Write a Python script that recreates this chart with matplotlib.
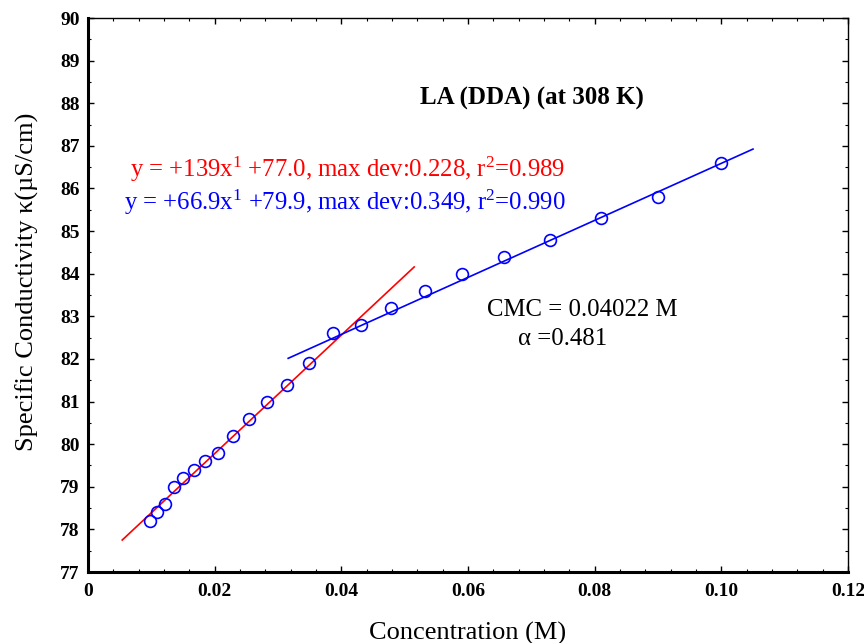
import matplotlib
matplotlib.use("Agg")
import matplotlib.pyplot as plt
from matplotlib.ticker import MultipleLocator, FixedLocator, FixedFormatter
import numpy as np

plt.rcParams['font.family'] = ['Liberation Serif', 'DejaVu Serif']
plt.rcParams['mathtext.fontset'] = 'custom'
plt.rcParams['mathtext.rm'] = 'Liberation Serif'
plt.rcParams['mathtext.it'] = 'Liberation Serif:italic'
plt.rcParams['mathtext.bf'] = 'Liberation Serif:bold'

# Data
conc = [0.00985, 0.01094, 0.01216, 0.01351, 0.01501, 0.01668, 0.01853, 0.02059,
        0.02288, 0.02542, 0.02824, 0.03138, 0.03487, 0.03874, 0.04305, 0.04783,
        0.05314, 0.05905, 0.06561, 0.07290, 0.08100, 0.09000, 0.10000]
kappa = [78.2, 78.4, 78.6, 79.0, 79.2, 79.4, 79.6, 79.8, 80.2, 80.6, 81.0, 81.4,
         81.9, 82.6, 82.8, 83.2, 83.6, 84.0, 84.4, 84.8, 85.3, 85.8, 86.6]

# Fit lines (from equations shown)
red_slope, red_int = 139.0, 77.0
red_range = [0.0054, 0.0515]
blue_slope, blue_int = 66.9, 79.9
blue_range = [0.0316, 0.105]

xticks = [0, 0.02, 0.04, 0.06, 0.08, 0.10, 0.12]
xtick_labels = ["0", "0.02", "0.04", "0.06", "0.08", "0.10", "0.12"]
yticks = list(range(77, 91))

fig = plt.figure(figsize=(8.64, 6.43), dpi=100)
ax = fig.add_axes([0.1019, 0.1104, 0.8796, 0.8616])

rx = np.array(red_range)
ax.plot(rx, red_slope * rx + red_int, color='red', lw=1.2)
bx = np.array(blue_range)
ax.plot(bx, blue_slope * bx + blue_int, color='blue', lw=1.2)
ax.plot(conc, kappa, linestyle='none', marker='o', markersize=8.5,
        markerfacecolor='none', markeredgecolor='blue', markeredgewidth=1.2)

ax.set_xlim(0, 0.12)
ax.set_ylim(77, 90)
ax.xaxis.set_major_locator(FixedLocator(xticks))
ax.xaxis.set_major_formatter(FixedFormatter(xtick_labels))
ax.xaxis.set_minor_locator(MultipleLocator(0.004))
ax.yaxis.set_major_locator(FixedLocator(yticks))
ax.yaxis.set_minor_locator(MultipleLocator(0.5))

ax.tick_params(which='both', direction='in', top=True, right=True)
ax.tick_params(which='major', length=4, width=1)
ax.tick_params(which='minor', length=2, width=0.8)
ax.tick_params(axis='x', pad=8)
ax.tick_params(axis='y', pad=6)
for lab in ax.get_xticklabels() + ax.get_yticklabels():
    lab.set_fontweight('bold')
    lab.set_fontsize(14)

ax.spines['left'].set_linewidth(2.2)
ax.spines['bottom'].set_linewidth(2.2)
ax.spines['top'].set_linewidth(1)
ax.spines['right'].set_linewidth(1)

ax.set_xlabel('Concentration (M)', fontsize=19, labelpad=15.5)
ax.set_ylabel('Specific Conductivity κ(µS/cm)', fontsize=19, labelpad=15)
ax.yaxis.label.set_y(0.523)

ax.text(0.0701, 88.12, 'LA (DDA) (at 308 K)', fontsize=18, fontweight='bold',
        ha='center', va='center')
ax.text(0.0410, 86.45, r'y = +139x$^{1}$ +77.0, max dev:0.228, r$^{2}$=0.989',
        color='red', fontsize=17.8, ha='center', va='center')
ax.text(0.0405, 85.67, r'y = +66.9x$^{1}$ +79.9, max dev:0.349, r$^{2}$=0.990',
        color='blue', fontsize=17.8, ha='center', va='center')
ax.text(0.0780, 83.15, 'CMC = 0.04022 M', fontsize=17.8, ha='center', va='center')
ax.text(0.0749, 82.46, 'α =0.481', fontsize=17.8, ha='center', va='center')

fig.savefig('out.png', dpi=100)
